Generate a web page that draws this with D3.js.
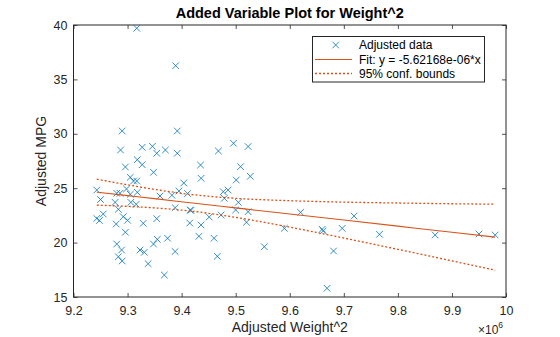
<!DOCTYPE html>
<html>
<head>
<meta charset="utf-8">
<script src="https://cdn.jsdelivr.net/npm/d3@7/dist/d3.min.js"></script>
<style>
  html, body { margin: 0; padding: 0; background: #fff; }
  svg { display: block; font-family: "Liberation Sans", Arial, Helvetica, sans-serif; }
</style>
</head>
<body>
<svg id="chart" width="560" height="337"></svg>
<script>
// Adjusted Weight^2 (in units of 1e6)
const weightSq = [
  9.317, 9.389, 9.290, 9.392, 9.287, 9.327, 9.346, 9.354, 9.370, 9.392,
  9.318, 9.468, 9.496, 9.523, 9.327, 9.296, 9.348, 9.305, 9.311, 9.317,
  9.404, 9.243, 9.298, 9.280, 9.286, 9.305, 9.318, 9.360, 9.382, 9.395,
  9.411, 9.250, 9.277, 9.306, 9.316, 9.283, 9.388, 9.416, 9.417, 9.255,
  9.243, 9.248, 9.292, 9.300, 9.279, 9.329, 9.354, 9.415, 9.296, 9.280,
  9.355, 9.348, 9.374, 9.289, 9.323, 9.331, 9.388, 9.283, 9.290, 9.338,
  9.368, 9.435, 9.509, 9.436, 9.501, 9.527, 9.477, 9.486, 9.479, 9.505,
  9.500, 9.523, 9.451, 9.473, 9.436, 9.520, 9.590, 9.432, 9.460, 9.553,
  9.466, 9.620, 9.660, 9.662, 9.697, 9.719, 9.681, 9.669, 9.766, 9.869,
  9.950, 9.980
];
// Adjusted MPG
const mpg = [
  39.70, 36.26, 30.26, 30.26, 28.51, 28.76, 28.85, 28.21, 28.51, 28.21,
  27.62, 28.42, 29.13, 28.83, 27.16, 26.95, 26.46, 26.00, 25.66, 25.66,
  25.48, 24.83, 24.93, 24.53, 24.53, 24.44, 24.62, 24.28, 24.35, 24.74,
  24.51, 23.96, 23.70, 23.70, 23.52, 23.06, 23.21, 23.00, 22.95, 22.63,
  22.22, 22.03, 22.38, 22.05, 21.71, 21.77, 22.20, 21.80, 20.95, 19.87,
  20.30, 19.87, 20.40, 19.32, 19.32, 19.11, 19.18, 18.70, 18.31, 18.06,
  17.02, 27.13, 26.98, 25.91, 25.75, 26.09, 24.68, 24.83, 24.07, 23.70,
  23.00, 22.84, 22.35, 22.54, 21.62, 21.87, 21.31, 20.58, 20.40, 19.62,
  18.74, 22.78, 21.22, 21.07, 21.31, 22.44, 19.23, 15.80, 20.76, 20.70,
  20.79, 20.70
];
// Fit line and 95% confidence bounds, read at these x positions (1e6)
const boundX = [9.243, 9.30, 9.35, 9.42, 9.50, 9.60, 9.70, 9.80, 9.90, 9.980];
const fitY   = [24.64, 24.32, 24.04, 23.64, 23.19, 22.63, 22.07, 21.51, 20.95, 20.50];
const upperY = [25.83, 25.31, 24.89, 24.41, 24.07, 23.85, 23.72, 23.64, 23.57, 23.53];
const lowerY = [23.44, 23.33, 23.19, 22.88, 22.32, 21.42, 20.42, 19.38, 18.32, 17.47];

const xTicks = [9.2, 9.3, 9.4, 9.5, 9.6, 9.7, 9.8, 9.9, 10];
const yTicks = [15, 20, 25, 30, 35, 40];
const titleText = "Added Variable Plot for Weight^2";
const xLabelText = "Adjusted Weight^2";
const yLabelText = "Adjusted MPG";
const legendLabels = ["Adjusted data", "Fit: y = -5.62168e-06*x", "95% conf. bounds"];

const blue = "#0072BD", orange = "#D95319", axisCol = "#262626";
const L = 73.5, R = 506, T = 25, B = 297;

const svg = d3.select("#chart");
const x = d3.scaleLinear().domain([9.2, 10]).range([L, R]);
const y = d3.scaleLinear().domain([15, 40]).range([B, T]);

svg.append("rect").attr("x", L).attr("y", T).attr("width", R - L).attr("height", B - T).attr("fill", "#fff");

const fmtX = d => (d === 10 ? "10" : d3.format(".1f")(d));
const gB = svg.append("g").attr("transform", `translate(0,${B})`)
  .call(d3.axisBottom(x).tickValues(xTicks).tickFormat(fmtX).tickSize(-4).tickPadding(9.5));
const gT = svg.append("g").attr("transform", `translate(0,${T})`)
  .call(d3.axisTop(x).tickValues(xTicks).tickFormat("").tickSize(-4));
const gL = svg.append("g").attr("transform", `translate(${L},0)`)
  .call(d3.axisLeft(y).tickValues(yTicks).tickSize(-4).tickPadding(6));
const gR = svg.append("g").attr("transform", `translate(${R},0)`)
  .call(d3.axisRight(y).tickValues(yTicks).tickFormat("").tickSize(-4));
[gB, gT, gL, gR].forEach(g => {
  g.select(".domain").remove();
  g.selectAll(".tick line").attr("stroke", axisCol).attr("stroke-width", 0.8);
  g.selectAll(".tick text").attr("fill", axisCol).style("font-size", "12.5px")
    .style("font-family", '"Liberation Sans", Arial, sans-serif');
});
svg.append("rect").attr("x", L).attr("y", T).attr("width", R - L).attr("height", B - T)
  .attr("fill", "none").attr("stroke", axisCol).attr("stroke-width", 1);

const pts = weightSq.map((w, i) => [w, mpg[i]]);
const s = 3.3;
svg.append("g").selectAll("path").data(pts).join("path")
  .attr("d", d => {
    const cx = x(d[0]), cy = y(d[1]);
    return `M${cx - s},${cy - s}L${cx + s},${cy + s}M${cx - s},${cy + s}L${cx + s},${cy - s}`;
  })
  .attr("stroke", blue).attr("stroke-width", 0.8).attr("fill", "none");

const line = d3.line().x(d => x(d[0])).y(d => y(d[1])).curve(d3.curveMonotoneX);
svg.append("path").datum(boundX.map((v, i) => [v, fitY[i]])).attr("d", line)
  .attr("fill", "none").attr("stroke", orange).attr("stroke-width", 1.1);
[upperY, lowerY].forEach(arr => {
  svg.append("path").datum(boundX.map((v, i) => [v, arr[i]])).attr("d", line)
    .attr("fill", "none").attr("stroke", orange).attr("stroke-width", 1.3)
    .attr("stroke-dasharray", "2,2");
});

svg.append("text").attr("x", (L + R) / 2).attr("y", 18).attr("text-anchor", "middle")
  .attr("fill", "#000").style("font-size", "14.5px").style("font-weight", "bold").text(titleText);
svg.append("text").attr("x", (L + R) / 2).attr("y", 332).attr("text-anchor", "middle")
  .attr("fill", axisCol).style("font-size", "14px").text(xLabelText);
svg.append("text").attr("transform", `translate(46,${(T + B) / 2}) rotate(-90)`).attr("text-anchor", "middle")
  .attr("fill", axisCol).style("font-size", "14px").text(yLabelText);
const expo = svg.append("text").attr("x", 478).attr("y", 334).attr("fill", axisCol).style("font-size", "12px");
expo.append("tspan").text("×10");
expo.append("tspan").attr("dy", -6).style("font-size", "8.5px").text("6");

const lg = svg.append("g");
lg.append("rect").attr("x", 312.5).attr("y", 36.5).attr("width", 172).attr("height", 45.5)
  .attr("fill", "#fff").attr("stroke", axisCol).attr("stroke-width", 1);
const rows = [45, 59.5, 73.5];
lg.append("path").attr("d", `M${335.7 - s},${rows[0] - s}L${335.7 + s},${rows[0] + s}M${335.7 - s},${rows[0] + s}L${335.7 + s},${rows[0] - s}`)
  .attr("stroke", blue).attr("stroke-width", 0.8);
lg.append("line").attr("x1", 315).attr("x2", 352).attr("y1", rows[1]).attr("y2", rows[1])
  .attr("stroke", orange).attr("stroke-width", 1.1);
lg.append("line").attr("x1", 315).attr("x2", 352).attr("y1", rows[2]).attr("y2", rows[2])
  .attr("stroke", orange).attr("stroke-width", 1.3).attr("stroke-dasharray", "2,2");
legendLabels.forEach((t, i) => {
  lg.append("text").attr("x", 359).attr("y", rows[i] + 4.3).attr("fill", "#000")
    .style("font-size", "12px").text(t);
});
</script>
</body>
</html>
